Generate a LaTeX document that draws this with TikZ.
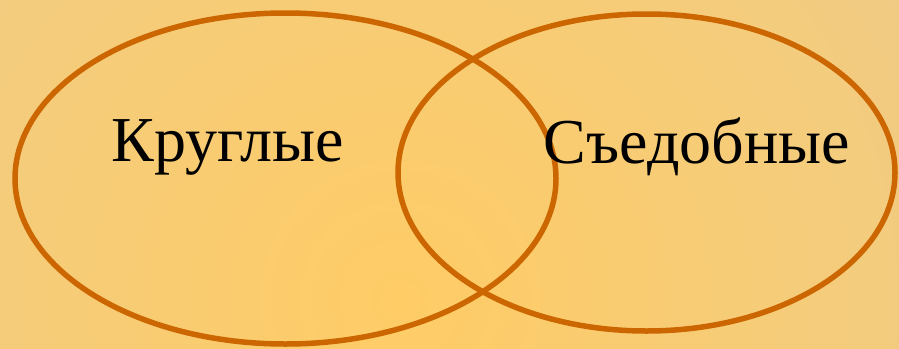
\documentclass[tikz,border=0pt]{standalone}
\usepackage{fontspec}
\setmainfont{Liberation Serif}
\usetikzlibrary{positioning}
\definecolor{rim}{HTML}{CC6600}
\definecolor{glow}{HTML}{FFCC66}
\definecolor{sand}{HTML}{E6CB98}

\begin{document}
\begin{tikzpicture}[x=1pt,y=-1pt,
    setline/.style={rim,line width=5.5pt},
    setlabel/.style={font=\fontsize{64}{72}\selectfont,inner sep=0pt}]
  \useasboundingbox (0,0) rectangle (899,348);
  \clip (0,0) rectangle (899,348);
  \shade[inner color=glow,outer color=sand] (400,300) circle (1000);
  \draw[setline] (285.5,178.5) ellipse [x radius=270.5,y radius=165.5];
  \draw[setline] (646.5,172.5) ellipse [x radius=248.5,y radius=158.5];
  \node[setlabel] (round) at (228,147) {Круглые};
  \node[setlabel] (edible) at (697,147) {Съедобные};
\end{tikzpicture}
\end{document}
